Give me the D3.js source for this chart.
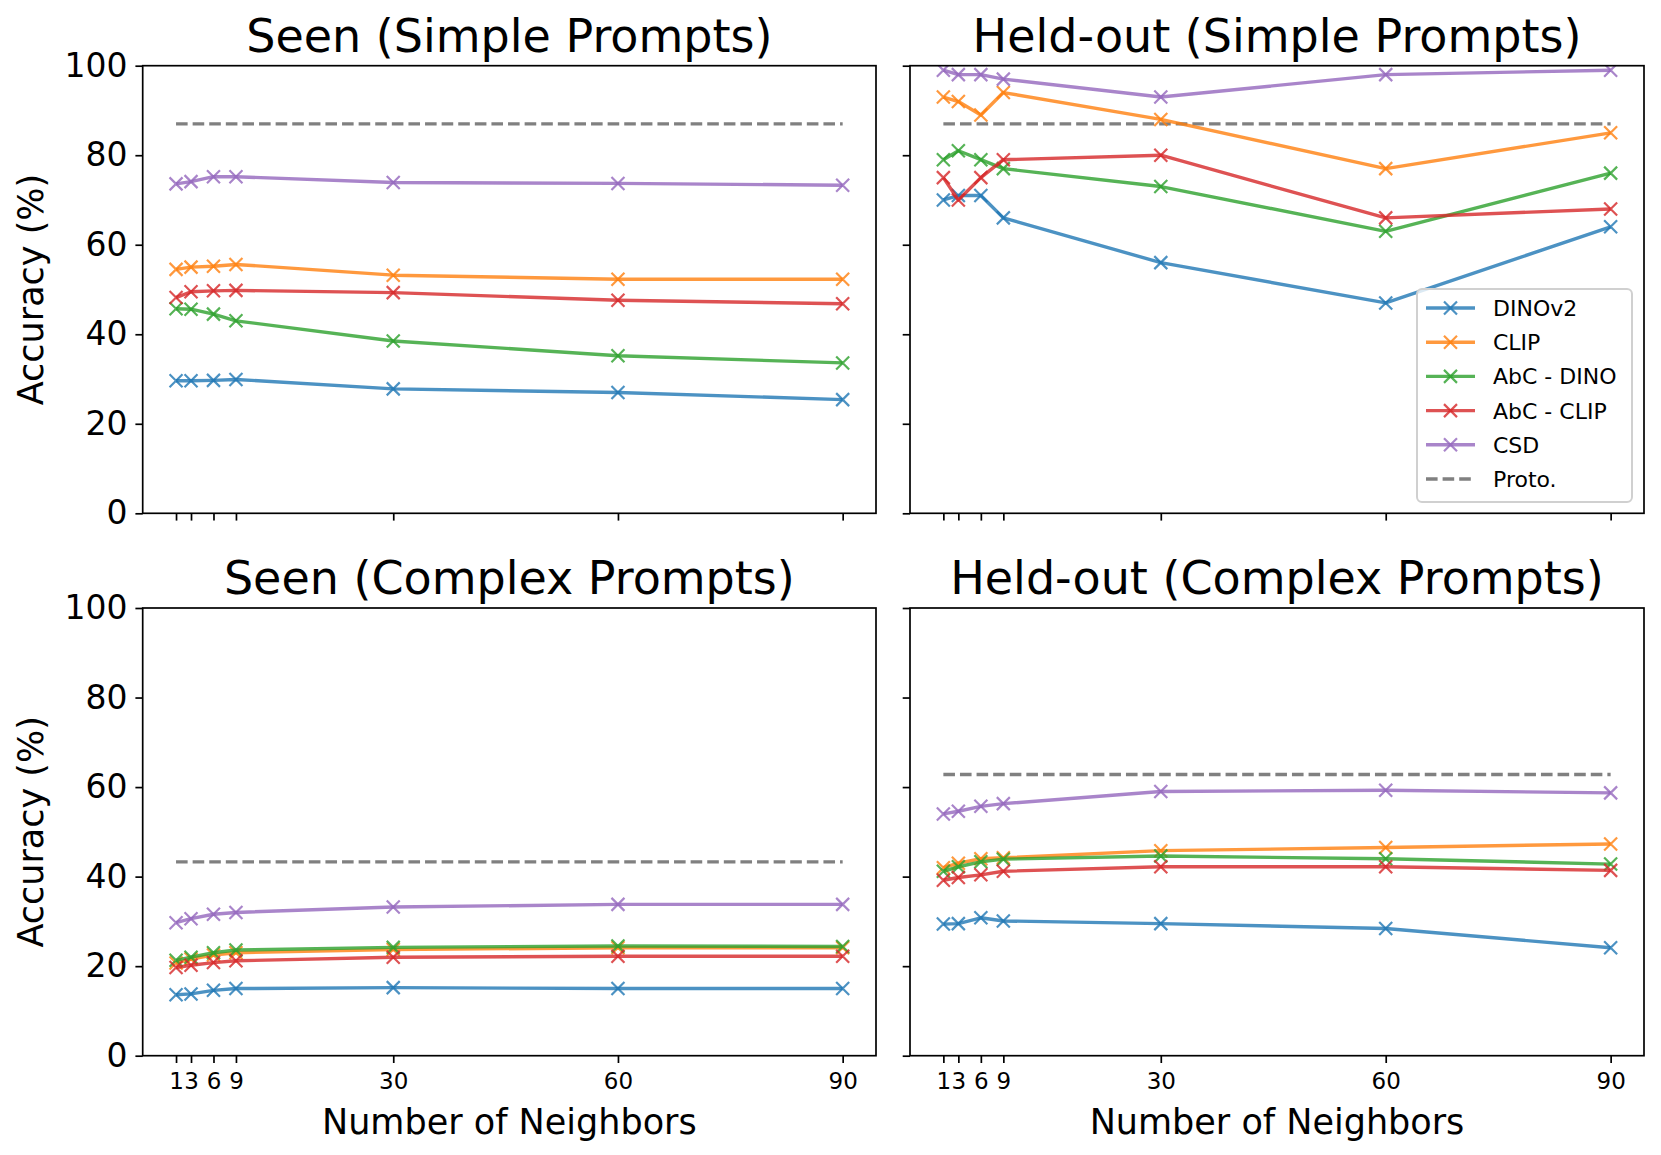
<!DOCTYPE html>
<html>
<head>
<meta charset="utf-8">
<script src="https://cdn.jsdelivr.net/npm/d3@7"></script>
<style>
  body { margin: 0; background: #fff; }
  svg { font-family: "DejaVu Sans", sans-serif; }
</style>
</head>
<body>
<svg id="chart" width="1661" height="1155"></svg>
<script>
// data
const neighbors = [1, 3, 6, 9, 30, 60, 90];
const methods = ["DINOv2", "CLIP", "AbC - DINO", "AbC - CLIP", "CSD"];
const colors = ["#1f77b4", "#ff7f0e", "#2ca02c", "#d62728", "#9467bd"];
const panelTitles = ["Seen (Simple Prompts)", "Held-out (Simple Prompts)",
                     "Seen (Complex Prompts)", "Held-out (Complex Prompts)"];

// one row per method, same order as `methods`
const seenSimple = [
  [29.6, 29.6, 29.7, 29.9, 27.8, 27.0, 25.4],
  [54.5, 55.0, 55.2, 55.6, 53.2, 52.3, 52.3],
  [45.7, 45.6, 44.5, 43.0, 38.5, 35.2, 33.6],
  [48.2, 49.5, 49.7, 49.8, 49.3, 47.6, 46.8],
  [73.6, 74.1, 75.2, 75.2, 73.9, 73.7, 73.3]
];
const heldSimple = [
  [70, 71, 71, 66, 56, 47, 64],
  [93, 92, 89, 94, 88, 77, 85],
  [79, 81, 79, 77, 73, 63, 76],
  [75, 70, 75, 79, 80, 66, 68],
  [99, 98, 98, 97, 93, 98, 99]
];
const seenComplex = [
  [13.6, 13.8, 14.6, 15.0, 15.2, 15.0, 15.0],
  [20.7, 21.6, 22.5, 23.0, 23.7, 24.1, 24.1],
  [21.3, 22.0, 23.0, 23.6, 24.2, 24.5, 24.4],
  [19.7, 20.2, 20.8, 21.2, 22.0, 22.2, 22.2],
  [29.7, 30.6, 31.6, 32.0, 33.2, 33.8, 33.8]
];
const heldComplex = [
  [29.4, 29.5, 30.8, 30.1, 29.5, 28.4, 24.1],
  [42.0, 43.0, 44.0, 44.2, 45.8, 46.5, 47.3],
  [41.2, 42.2, 43.3, 43.9, 44.6, 44.0, 42.8],
  [39.2, 39.8, 40.4, 41.2, 42.2, 42.2, 41.4],
  [54.0, 54.6, 55.7, 56.3, 59.0, 59.3, 58.7]
];
const protoValues = [87, 87, 43.3, 62.8];
const yTicks = [0, 20, 40, 60, 80, 100];

const panelData = [seenSimple, heldSimple, seenComplex, heldComplex];

const svg = d3.select("#chart");
const cols = [[142.7, 876], [910, 1644]];
const rows = [[65.7, 513.3], [608, 1055.7]];

const xPad = (d3.max(neighbors) - d3.min(neighbors)) * 0.05;
const lineW = 3.4;

// x-shaped marker path
function cross(x, y) {
  const s = 6.5;
  return `M${x - s},${y - s}L${x + s},${y + s}M${x - s},${y + s}L${x + s},${y - s}`;
}

panelData.forEach(function(data, i) {
  const c = i % 2, r = Math.floor(i / 2);
  const [x0, x1] = cols[c];
  const [y0, y1] = rows[r];

  const x = d3.scaleLinear()
    .domain([d3.min(neighbors) - xPad, d3.max(neighbors) + xPad])
    .range([x0, x1]);
  const y = d3.scaleLinear().domain([0, 100]).range([y1, y0]);

  const g = svg.append("g");
  const clipId = "clip" + i;
  g.append("clipPath").attr("id", clipId)
    .append("rect").attr("x", x0).attr("y", y0)
    .attr("width", x1 - x0).attr("height", y1 - y0);

  const plot = g.append("g").attr("clip-path", "url(#" + clipId + ")");

  // prototype reference line
  plot.append("line")
    .attr("x1", x(neighbors[0])).attr("x2", x(neighbors[neighbors.length - 1]))
    .attr("y1", y(protoValues[i])).attr("y2", y(protoValues[i]))
    .attr("stroke", "#808080").attr("stroke-width", lineW)
    .attr("stroke-dasharray", "11.6,5");

  const line = d3.line()
    .x((d, k) => x(neighbors[k]))
    .y((d) => y(d));

  data.forEach(function(vals, m) {
    plot.append("path")
      .attr("d", line(vals))
      .attr("fill", "none")
      .attr("stroke", colors[m])
      .attr("stroke-opacity", 0.8)
      .attr("stroke-width", lineW)
      .attr("stroke-linejoin", "round");
    plot.selectAll(null)
      .data(vals)
      .enter()
      .append("path")
      .attr("d", (d, k) => cross(x(neighbors[k]), y(d)))
      .attr("stroke", colors[m])
      .attr("stroke-opacity", 0.8)
      .attr("stroke-width", 2.2);
  });

  // axes
  const xAxis = d3.axisBottom(x).tickValues(neighbors).tickSize(7.3).tickPadding(10)
    .tickFormat(r === 1 ? d3.format("d") : () => "");
  const gx = g.append("g").attr("transform", "translate(0," + y1 + ")").call(xAxis);
  gx.select(".domain").remove();
  gx.selectAll(".tick line").attr("stroke", "#000").attr("stroke-width", 1.7);
  gx.selectAll(".tick text").attr("font-size", 23).attr("fill", "#000")
    .attr("font-family", "DejaVu Sans");

  const yAxis = d3.axisLeft(y).tickValues(yTicks).tickSize(7.3).tickPadding(8)
    .tickFormat(c === 0 ? d3.format("d") : () => "");
  const gy = g.append("g").attr("transform", "translate(" + x0 + ",0)").call(yAxis);
  gy.select(".domain").remove();
  gy.selectAll(".tick line").attr("stroke", "#000").attr("stroke-width", 1.7);
  gy.selectAll(".tick text").attr("font-size", 33).attr("fill", "#000")
    .attr("font-family", "DejaVu Sans");

  // frame
  g.append("rect")
    .attr("x", x0).attr("y", y0).attr("width", x1 - x0).attr("height", y1 - y0)
    .attr("fill", "none").attr("stroke", "#000").attr("stroke-width", 1.7);

  // title
  g.append("text")
    .attr("x", (x0 + x1) / 2).attr("y", y0 - 14)
    .attr("text-anchor", "middle").attr("font-size", 46)
    .text(panelTitles[i]);

  if (c === 0) {
    g.append("text")
      .attr("transform", "translate(43," + (y0 + y1) / 2 + ") rotate(-90)")
      .attr("text-anchor", "middle").attr("font-size", 35)
      .text("Accuracy (%)");
  }
  if (r === 1) {
    g.append("text")
      .attr("x", (x0 + x1) / 2).attr("y", 1134)
      .attr("text-anchor", "middle").attr("font-size", 35)
      .text("Number of Neighbors");
  }
});

// legend in the held-out simple panel
const legend = svg.append("g");
legend.append("rect")
  .attr("x", 1417).attr("y", 289).attr("width", 215).attr("height", 213)
  .attr("rx", 5).attr("fill", "#fff").attr("fill-opacity", 0.8)
  .attr("stroke", "#d0d0d0").attr("stroke-width", 2);

const legendItems = methods.concat(["Proto."]);
legendItems.forEach(function(name, k) {
  const ly = 308 + k * 34.2;
  const isProto = k === methods.length;
  legend.append("line")
    .attr("x1", 1426).attr("x2", 1475).attr("y1", ly).attr("y2", ly)
    .attr("stroke", isProto ? "#808080" : colors[k])
    .attr("stroke-opacity", isProto ? 1 : 0.8)
    .attr("stroke-width", lineW)
    .attr("stroke-dasharray", isProto ? "11.6,5" : null);
  if (!isProto) {
    legend.append("path")
      .attr("d", cross(1450.5, ly))
      .attr("stroke", colors[k]).attr("stroke-opacity", 0.8).attr("stroke-width", 2.2);
  }
  legend.append("text")
    .attr("x", 1493).attr("y", ly).attr("dy", "0.36em")
    .attr("font-size", 22).text(name);
});
</script>
</body>
</html>
